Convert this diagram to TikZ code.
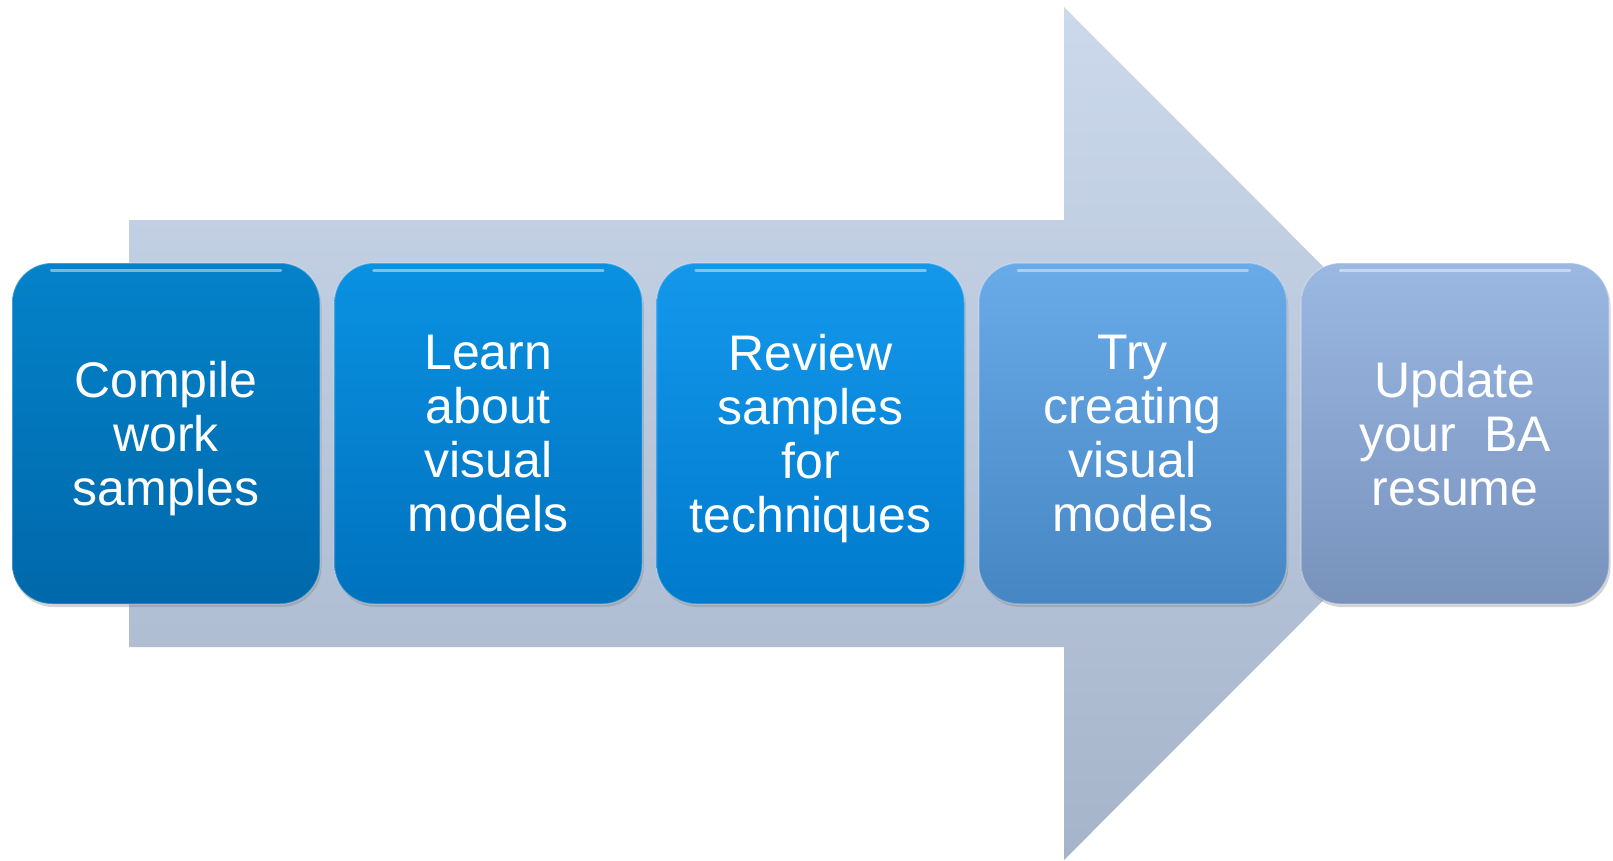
\documentclass[tikz,border=0pt]{standalone}
\usepackage{fontspec}
\setmainfont{Liberation Sans}
\usetikzlibrary{shadows}
\definecolor{arrTop}{RGB}{204,217,236}
\definecolor{arrBot}{RGB}{166,180,202}
\definecolor{aT}{RGB}{4,130,202}
\definecolor{aB}{RGB}{0,104,170}
\definecolor{bT}{RGB}{10,145,226}
\definecolor{bB}{RGB}{0,114,190}
\definecolor{cT}{RGB}{20,152,236}
\definecolor{cB}{RGB}{0,122,204}
\definecolor{dT}{RGB}{105,170,232}
\definecolor{dB}{RGB}{70,134,195}
\definecolor{eT}{RGB}{154,184,226}
\definecolor{eB}{RGB}{120,146,188}
\tikzset{
  stepbox/.style={rounded corners=40pt, minimum width=308pt, minimum height=341pt,
    text=white, align=center, inner sep=0pt,
    font=\fontsize{50}{54}\selectfont,
    draw=white, draw opacity=0.25, line width=1.5pt,
    drop shadow={opacity=0.35, shadow xshift=1.5pt, shadow yshift=-3pt}},
  gloss/.style={white, opacity=0.45, line width=3pt, line cap=round}
}
\begin{document}
\begin{tikzpicture}[x=1pt,y=-1pt]
\useasboundingbox (0,0) rectangle (1613,860);
% big arrow
\shade[top color=arrTop, bottom color=arrBot]
  (129,220) -- (1064,220) -- (1064,7) -- (1490,433.5) -- (1064,860) -- (1064,647) -- (129,647) -- cycle;
% boxes
\node[stepbox, top color=aT, bottom color=aB] (s1) at (166,433.5) {Compile\\work\\\smash{samples}};
\node[stepbox, top color=bT, bottom color=bB] (s2) at (488.25,433.5) {Learn\\about\\visual\\\smash{models}};
\node[stepbox, top color=cT, bottom color=cB] (s3) at (810.5,433.5) {Review\\samples\\for\\\smash{techniques}};
\node[stepbox, top color=dT, bottom color=dB] (s4) at (1132.75,433.5) {Try\\creating\\visual\\\smash{models}};
\node[stepbox, top color=eT, bottom color=eB] (s5) at (1455,433.5) {Update\\your\ \ BA\\\smash{resume}};
% gloss highlights
\foreach \n in {s1,s2,s3,s4,s5}{
  \draw[gloss] ([xshift=40pt,yshift=-8pt]\n.north west) -- ([xshift=-40pt,yshift=-8pt]\n.north east);
}
\end{tikzpicture}
\end{document}
